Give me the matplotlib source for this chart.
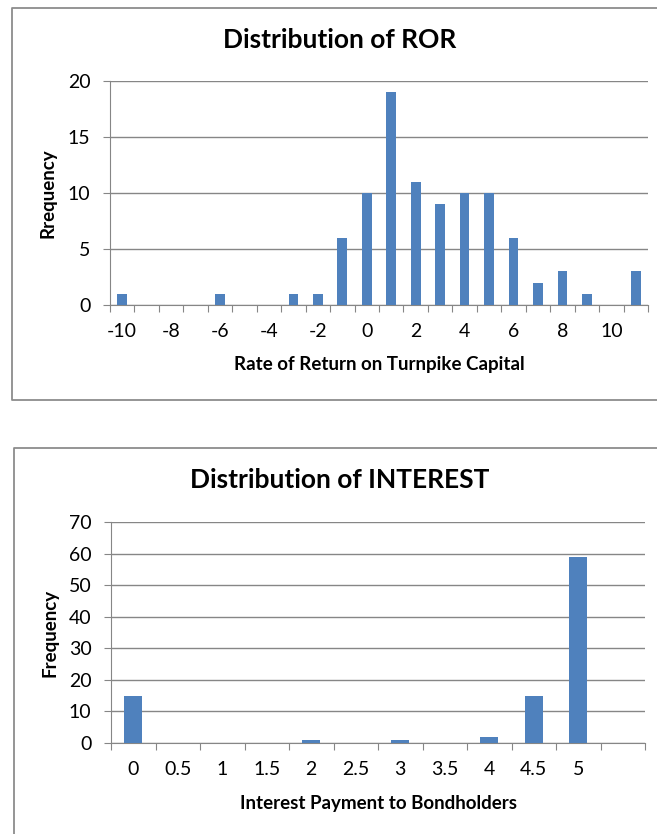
import matplotlib
matplotlib.use('Agg')
import matplotlib.pyplot as plt
from matplotlib.lines import Line2D

plt.rcParams['font.family'] = ['Lato', 'DejaVu Sans']

# histogram of the rate of return
ror_bins = list(range(-10, 12))
ror_freq = [1, 0, 0, 0, 1, 0, 0, 1, 1, 6, 10, 19, 11, 9, 10, 10, 6, 2, 3, 1, 0, 3]
ror_labels = [str(b) if b % 2 == 0 else '' for b in ror_bins]

# histogram of interest paid to bondholders (last bin is unlabeled)
int_labels = ['0', '0.5', '1', '1.5', '2', '2.5', '3', '3.5', '4', '4.5', '5', '']
int_freq = [15, 0, 0, 0, 1, 0, 1, 0, 2, 15, 59, 0]

W, H = 657, 834
bar_col = '#4F81BD'
grid_col = '#868686'
frame_col = '#8c8c8c'

fig = plt.figure(figsize=(W / 100, H / 100), dpi=100)


def px(x0, y0, x1, y1):
    # pixel box -> figure fraction rect
    return [x0 / W, 1 - y1 / H, (x1 - x0) / W, (y1 - y0) / H]


def frame(x0, y0, y1):
    # open box: left, top and bottom edges, right side runs off the page
    xs = [W + 10, x0, x0, W + 10]
    ys = [y0, y0, y1, y1]
    fig.add_artist(Line2D([x / W for x in xs], [1 - y / H for y in ys],
                          transform=fig.transFigure, color=frame_col, lw=1.3))


def histo(rect, labels, freq, ymax, ystep, title, xlabel, ylabel, ty, xly, yl_x):
    ax = fig.add_axes(rect)
    n = len(freq)
    ax.bar(range(n), freq, width=0.4, color=bar_col, zorder=3)
    ax.set_xlim(-0.5, n - 0.5)
    ax.set_ylim(0, ymax)
    ax.set_yticks(range(0, ymax + 1, ystep))
    ax.set_xticks([i - 0.5 for i in range(n + 1)])
    ax.set_xticklabels([])
    ax.set_xticks(range(n), minor=True)
    ax.set_xticklabels(labels, minor=True)
    ax.tick_params(axis='x', which='major', direction='out', length=5, color=grid_col)
    ax.tick_params(axis='x', which='minor', length=0, pad=13, labelsize=14)
    ax.tick_params(axis='y', direction='out', length=5, color=grid_col, labelsize=14, pad=9)
    ax.grid(axis='y', color=grid_col, lw=1, zorder=0)
    for s in ['top', 'right']:
        ax.spines[s].set_visible(False)
    for s in ['left', 'bottom']:
        ax.spines[s].set_color(grid_col)
    fig.text(340 / W, 1 - ty / H, title, ha='center', va='center',
             fontsize=19, fontweight='bold')
    fig.text(379 / W, 1 - xly / H, xlabel, ha='center', va='center',
             fontsize=13.5, fontweight='bold')
    fig.text(yl_x / W, rect[1] + rect[3] / 2, ylabel, ha='center', va='center',
             rotation=90, fontsize=13.5, fontweight='bold')
    return ax


frame(12, 8, 400)
frame(14, 448, H + 10)

histo(px(110, 81, 648, 305), ror_labels, ror_freq, 20, 5,
      'Distribution of ROR', 'Rate of Return on Turnpike Capital', 'Rrequency',
      40, 365, 48)
histo(px(111, 522, 645, 743), int_labels, int_freq, 70, 10,
      'Distribution of INTEREST', 'Interest Payment to Bondholders', 'Frequency',
      480, 803, 50)

fig.savefig('out.png', dpi=100)
